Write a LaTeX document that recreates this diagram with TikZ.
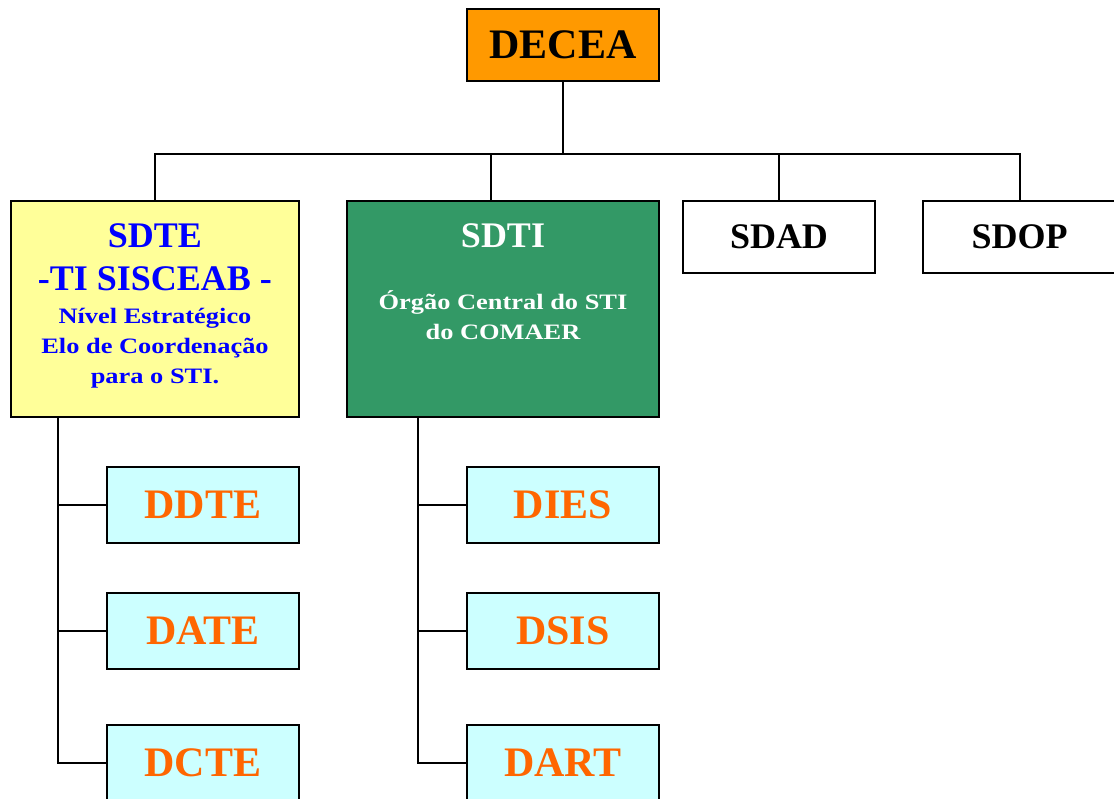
\documentclass[tikz,border=0pt]{standalone}
\usepackage{fontspec}
\setmainfont{Liberation Serif}
\newfontfamily\widefont[FakeStretch=1.2]{Liberation Serif}
\definecolor{deceaorange}{HTML}{FF9900}
\definecolor{sdteyellow}{HTML}{FFFF99}
\definecolor{sdtigreen}{HTML}{339966}
\definecolor{subcyan}{HTML}{CCFFFF}
\definecolor{suborange}{HTML}{FF6600}
\definecolor{sdteblue}{HTML}{0000FF}
\tikzset{
  box/.style={draw, line width=2pt, inner sep=0pt, anchor=north west},
  topbox/.style={box, minimum width=192pt, minimum height=72pt,
    font=\fontsize{36}{43}\selectfont\bfseries},
  subbox/.style={box, fill=subcyan, minimum width=192pt, minimum height=76pt,
    text=suborange, font=\fontsize{42}{50}\selectfont\bfseries},
  bigtitle/.style={anchor=north, inner sep=0pt, align=center,
    font=\fontsize{36}{43}\selectfont\bfseries},
  smalltext/.style={anchor=north, inner sep=0pt, align=center,
    font=\widefont\fontsize{22}{30}\selectfont\bfseries},
}
\begin{document}
\begin{tikzpicture}[x=1pt, y=-1pt, line width=2pt]
\useasboundingbox (0,0) rectangle (1114,799);
% top level
\node[box, fill=deceaorange, minimum width=192pt, minimum height=72pt,
  font=\fontsize{42}{50}\selectfont\bfseries] (decea) at (466,8) {DECEA};
\coordinate (bus) at ([yshift=-72pt]decea.south);

% second level
\node[box, fill=sdteyellow, minimum width=288pt, minimum height=216pt] (sdte) at (10,200) {};
\node[box, fill=sdtigreen, minimum width=312pt, minimum height=216pt] (sdti) at (346,200) {};
\node[topbox] (sdad) at (682,200) {SDAD};
\node[topbox, minimum width=193pt] (sdop) at (922,200) {SDOP};

\node[bigtitle, text=sdteblue] (sdtetitle) at (155,223) {SDTE\\-TI SISCEAB -};
\node[smalltext, text=sdteblue] (sdtedesc) at (155,307) {N\'{\i}vel Estrat\'egico\\Elo de Coordena\c{c}\~ao\\para o STI.};
\node[bigtitle, text=white] (sdtititle) at (503,223) {SDTI};
\node[smalltext, text=white] (sdtidesc) at (503,290) {\'Org\~ao Central do STI\\do COMAER};

% third level
\node[subbox] (ddte) at (106,466) {DDTE};
\node[subbox] (date) at (106,592) {DATE};
\node[subbox] (dcte) at (106,724) {DCTE};
\node[subbox] (dies) at (466,466) {DIES};
\node[subbox] (dsis) at (466,592) {DSIS};
\node[subbox] (dart) at (466,724) {DART};

% connectors
\draw (decea.south) -- (bus);
\draw (sdte.north) |- (bus);
\draw ([xshift=-12pt]sdti.north) |- (bus);
\draw (sdad.north) |- (bus);
\draw (sdop.north) |- (bus);

\draw ([xshift=48pt]sdte.south west) |- (ddte.west);
\draw ([xshift=48pt]sdte.south west) |- (date.west);
\draw ([xshift=48pt]sdte.south west) |- (dcte.west);
\draw ([xshift=72pt]sdti.south west) |- (dies.west);
\draw ([xshift=72pt]sdti.south west) |- (dsis.west);
\draw ([xshift=72pt]sdti.south west) |- (dart.west);
\end{tikzpicture}
\end{document}
